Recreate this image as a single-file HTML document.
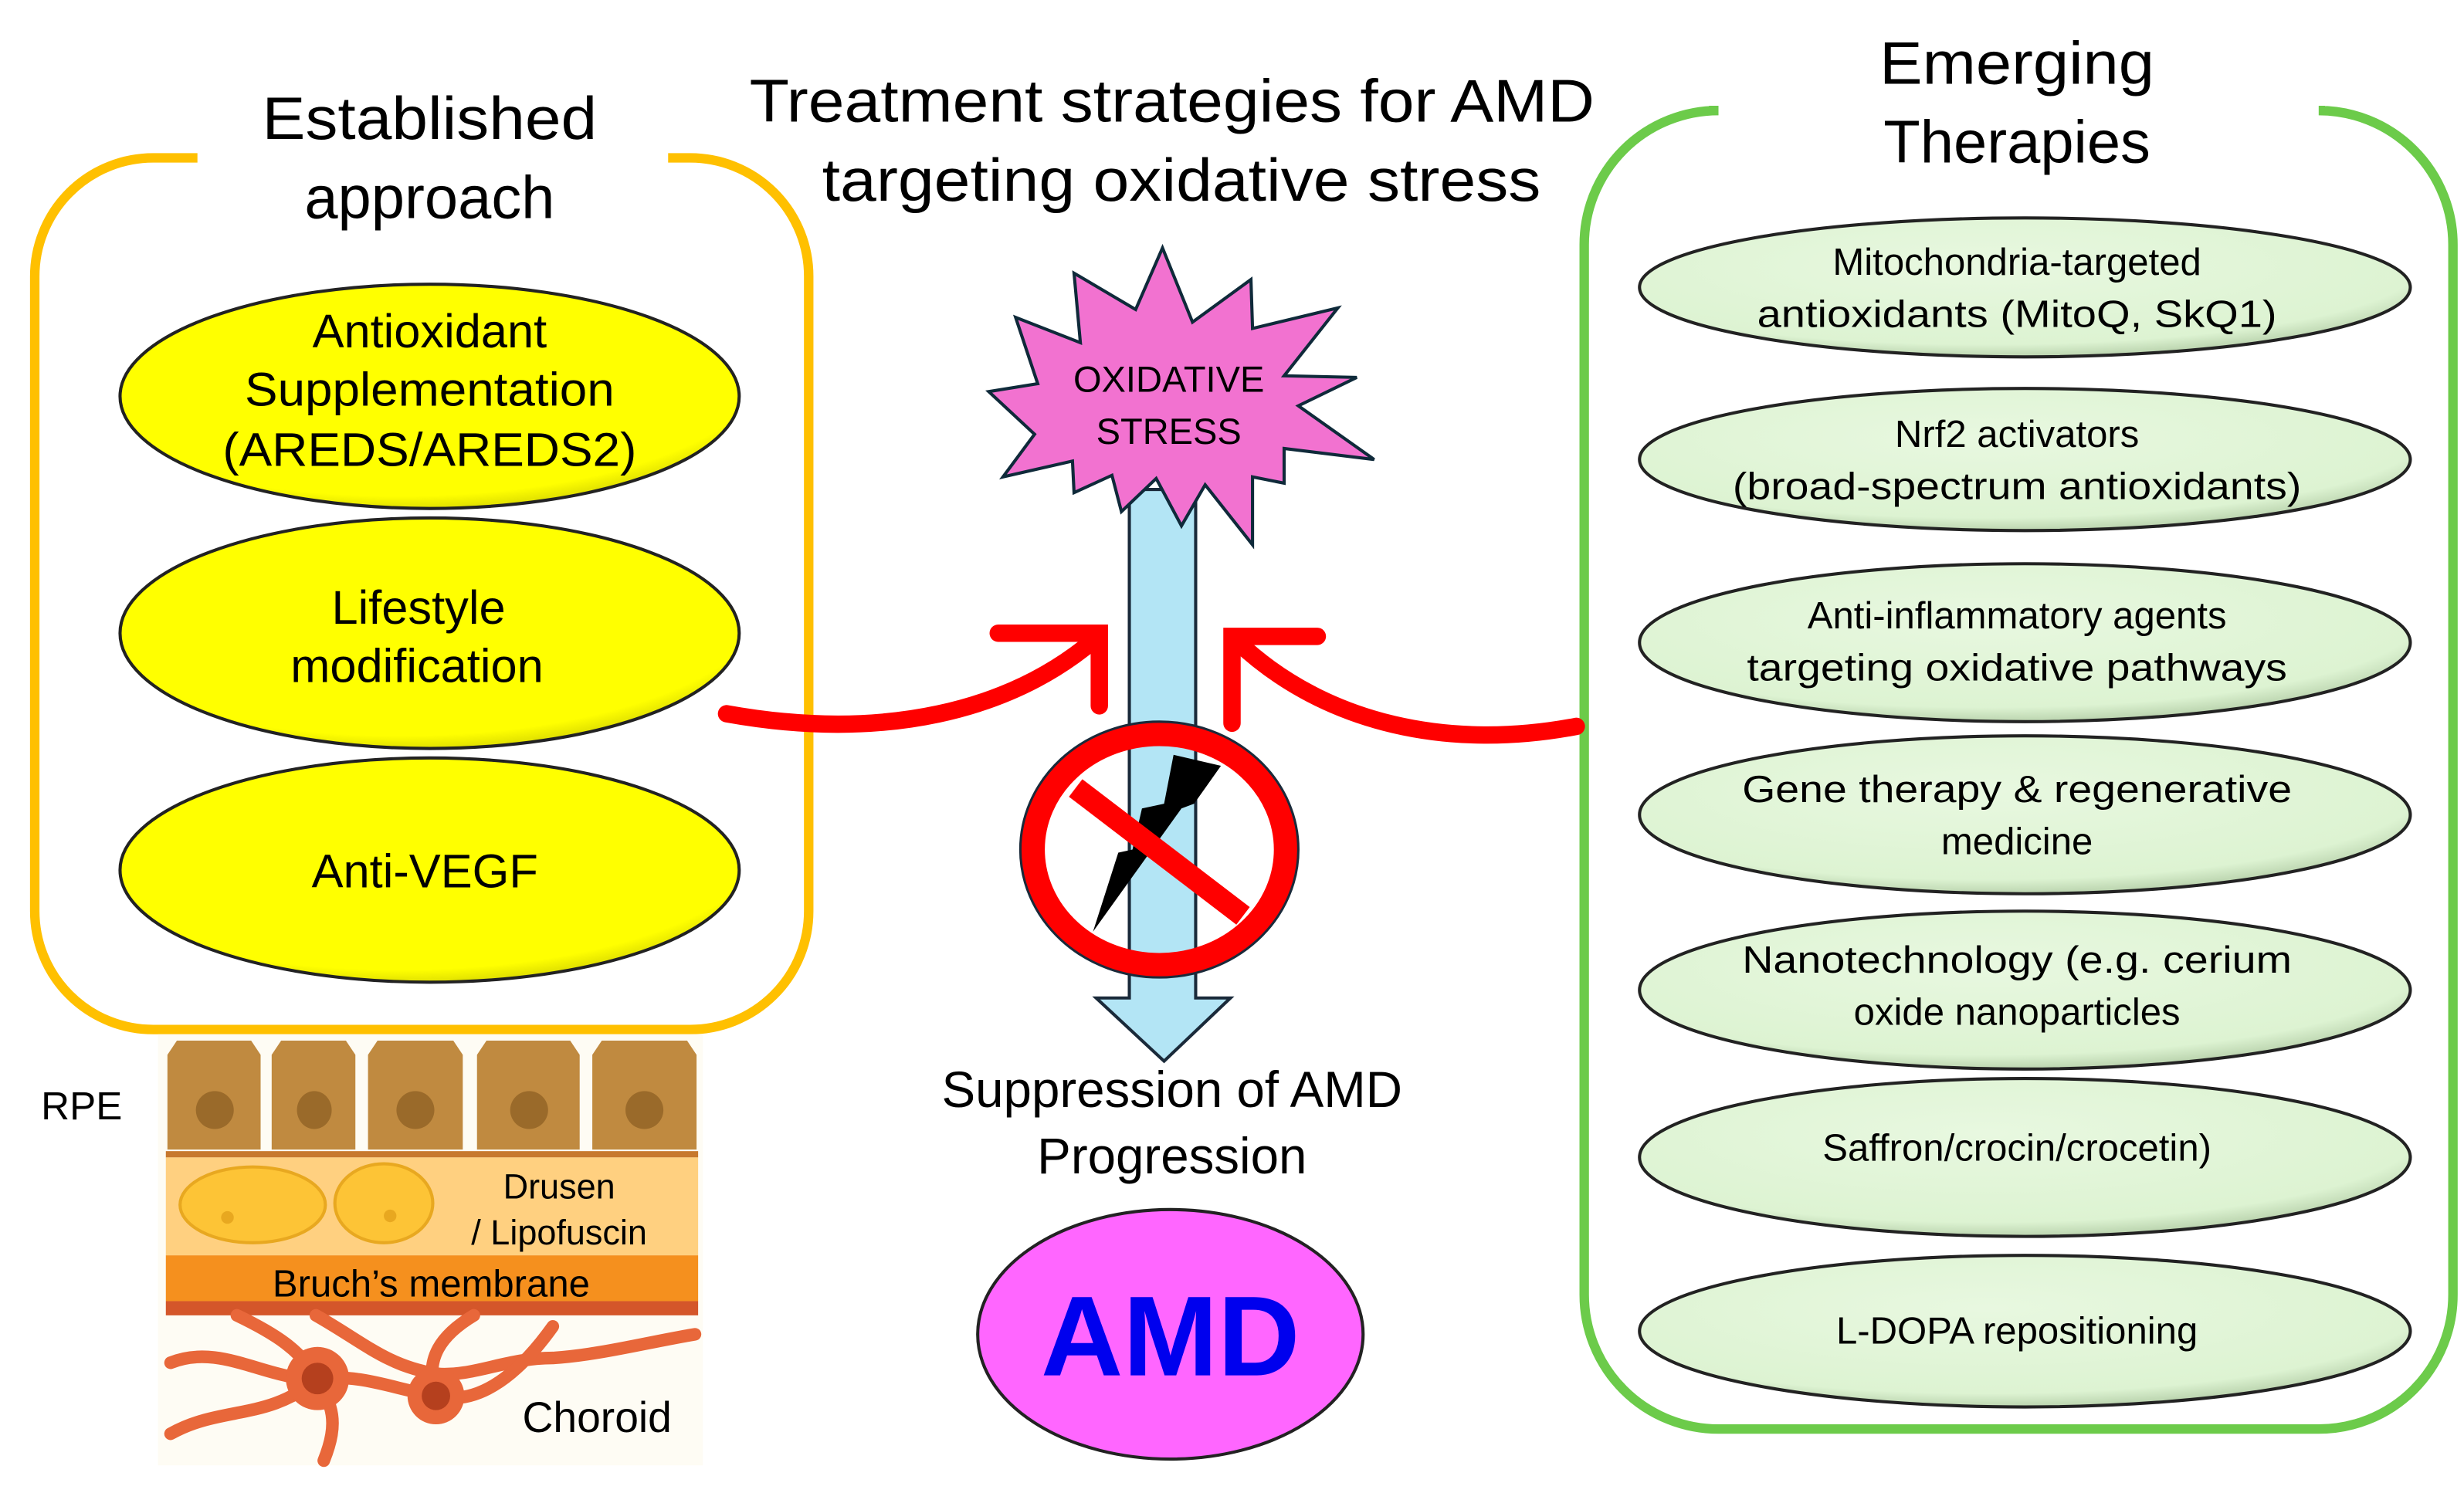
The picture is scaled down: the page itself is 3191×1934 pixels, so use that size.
<!DOCTYPE html>
<html><head><meta charset="utf-8"><style>html,body{margin:0;padding:0;background:#fff}svg{display:block}text{font-family:"Liberation Sans",Arial,sans-serif;fill:#000}</style></head><body>
<svg width="3191" height="1934" viewBox="0 0 1560 945.5" preserveAspectRatio="none" xmlns="http://www.w3.org/2000/svg">
<defs>
<radialGradient id="yg" cx="0.45" cy="0.35" r="0.7"><stop offset="0" stop-color="#FFFF00"/><stop offset="0.85" stop-color="#FFFF00"/><stop offset="1" stop-color="#C8C800"/></radialGradient>
<radialGradient id="gg" cx="0.45" cy="0.35" r="0.7"><stop offset="0" stop-color="#E8F8E0"/><stop offset="0.8" stop-color="#DDF3D2"/><stop offset="1" stop-color="#A9C49C"/></radialGradient>
</defs>
<rect width="1560" height="945.5" fill="#fff"/>
<g font-size="38" text-anchor="middle">
<text x="742" y="77" textLength="535" lengthAdjust="spacingAndGlyphs">Treatment strategies for AMD</text>
<text x="748" y="127" textLength="455" lengthAdjust="spacingAndGlyphs">targeting oxidative stress</text>
<text x="272" y="88" textLength="212" lengthAdjust="spacingAndGlyphs">Established</text>
<text x="272" y="138">approach</text>
<text x="1277" y="53" textLength="174" lengthAdjust="spacingAndGlyphs">Emerging</text>
<text x="1277" y="103">Therapies</text>
</g>
<path d="M125,100 H97 A75,75 0 0 0 22,175 V577 A75,75 0 0 0 97,652 H437 A75,75 0 0 0 512,577 V175 A75,75 0 0 0 437,100 H423" fill="none" stroke="#FFC000" stroke-width="6"/>
<path d="M1082,70 H1088 A85,85 0 0 0 1003,155 V820 A85,85 0 0 0 1088,905 H1468 A85,85 0 0 0 1553,820 V155 A85,85 0 0 0 1468,70 H1472" fill="none" stroke="#6CCB4A" stroke-width="6"/>
<g stroke="#222" stroke-width="2" fill="url(#yg)">
<ellipse cx="272" cy="251" rx="196" ry="71"/>
<ellipse cx="272" cy="401" rx="196" ry="73"/>
<ellipse cx="272" cy="551" rx="196" ry="71"/>
</g>
<g font-size="30" text-anchor="middle">
<text x="272" y="220">Antioxidant</text>
<text x="272" y="257" textLength="234" lengthAdjust="spacingAndGlyphs">Supplementation</text>
<text x="272" y="295" textLength="262" lengthAdjust="spacingAndGlyphs">(AREDS/AREDS2)</text>
<text x="265" y="395">Lifestyle</text>
<text x="264" y="432">modification</text>
<text x="269" y="562">Anti-VEGF</text>
</g>
<g stroke="#222" stroke-width="2" fill="url(#gg)">
<ellipse cx="1282" cy="182" rx="244" ry="44"/>
<ellipse cx="1282" cy="291" rx="244" ry="45"/>
<ellipse cx="1282" cy="407" rx="244" ry="50"/>
<ellipse cx="1282" cy="516" rx="244" ry="50"/>
<ellipse cx="1282" cy="627" rx="244" ry="50"/>
<ellipse cx="1282" cy="733" rx="244" ry="50"/>
<ellipse cx="1282" cy="843" rx="244" ry="48"/>
</g>
<g font-size="24" text-anchor="middle">
<text x="1277" y="174">Mitochondria-targeted</text>
<text x="1277" y="207" textLength="329" lengthAdjust="spacingAndGlyphs">antioxidants  (MitoQ, SkQ1)</text>
<text x="1277" y="283">Nrf2 activators</text>
<text x="1277" y="316" textLength="360" lengthAdjust="spacingAndGlyphs">(broad-spectrum  antioxidants)</text>
<text x="1277" y="398">Anti-inflammatory agents</text>
<text x="1277" y="431" textLength="342" lengthAdjust="spacingAndGlyphs">targeting  oxidative  pathways</text>
<text x="1277" y="508" textLength="348" lengthAdjust="spacingAndGlyphs">Gene therapy &amp; regenerative</text>
<text x="1277" y="541">medicine</text>
<text x="1277" y="616" textLength="348" lengthAdjust="spacingAndGlyphs">Nanotechnology  (e.g. cerium</text>
<text x="1277" y="649">oxide  nanoparticles</text>
<text x="1277" y="735">Saffron/crocin/crocetin)</text>
<text x="1277" y="851">L-DOPA repositioning</text>
</g>
<path d="M715,310 H757 V632 H779 L737,672 L694,632 H715 Z" fill="#B3E5F5" stroke="#1a2a3a" stroke-width="2"/>
<polygon points="736,157 755,204 792,177 793,208 847,195 813,238 859,239 822,257 870,291 813,284 813,306 793,302 793,345 763,307 748,333 732,303 710,324 704,301 680,312 679,292 635,302 655,275 626,248 657,243 643,201 684,217 680,173 719,196" fill="#F272D0" stroke="#0f2a3a" stroke-width="2"/>
<g font-size="23" text-anchor="middle"><text x="740" y="248">OXIDATIVE</text><text x="740" y="281">STRESS</text></g>
<g fill="none" stroke="#FF0000" stroke-width="11" stroke-linecap="round">
<path d="M460,452 C560,470 640,450 693,405"/>
<path d="M632,401 H696 V447"/>
<path d="M998,460 C920,475 840,460 783,406"/>
<path d="M834,403 H780 V458"/>
</g>
<polygon points="743,478 773,485 756,509 748,512 692,590 708,540 717,538 723,512 737,509" fill="#000"/>
<ellipse cx="734" cy="538" rx="80" ry="73" fill="none" stroke="#FF0000" stroke-width="15"/>
<ellipse cx="734" cy="538" rx="88" ry="81" fill="none" stroke="#1a2a3a" stroke-width="1.5"/>
<line x1="681" y1="499" x2="787" y2="580" stroke="#FF0000" stroke-width="14"/>
<g font-size="32" text-anchor="middle"><text x="742" y="701">Suppression of AMD</text><text x="742" y="743">Progression</text></g>
<ellipse cx="741" cy="845" rx="122" ry="79" fill="#FF66FF" stroke="#222" stroke-width="2"/>
<text x="741" y="871" font-size="72" font-weight="bold" text-anchor="middle" style="fill:#0000EE">AMD</text>
<rect x="100" y="655" width="345" height="273" fill="#FEFCF4"/>
<g fill="#C08A40">
<path d="M106,728 V668 L112,659 H159 L165,668 V728 Z"/>
<path d="M172,728 V668 L178,659 H219 L225,668 V728 Z"/>
<path d="M233,728 V668 L239,659 H287 L293,668 V728 Z"/>
<path d="M302,728 V668 L308,659 H361 L367,668 V728 Z"/>
<path d="M375,728 V668 L381,659 H435 L441,668 V728 Z"/>
</g>
<g fill="#9A6A2A"><ellipse cx="136" cy="703" rx="12" ry="12"/><ellipse cx="199" cy="703" rx="11" ry="12"/><ellipse cx="263" cy="703" rx="12" ry="12"/><ellipse cx="335" cy="703" rx="12" ry="12"/><ellipse cx="408" cy="703" rx="12" ry="12"/></g>
<rect x="105" y="729" width="337" height="4" fill="#C7782E"/>
<rect x="105" y="733" width="337" height="62" fill="#FFD080"/>
<rect x="105" y="795" width="337" height="29" fill="#F5901E"/>
<rect x="105" y="824" width="337" height="9" fill="#D4562A"/>
<g fill="#FDC436" stroke="#E8A820" stroke-width="2"><ellipse cx="160" cy="763" rx="46" ry="24"/><ellipse cx="243" cy="762" rx="31" ry="25"/></g>
<g fill="#E8A820"><circle cx="144" cy="771" r="4"/><circle cx="247" cy="770" r="4"/></g>
<g fill="none" stroke="#E8673A" stroke-width="8" stroke-linecap="round">
<path d="M108,863 C140,850 170,875 201,873 C230,870 250,880 276,884"/>
<path d="M108,908 C140,890 170,900 201,873"/>
<path d="M150,833 C175,845 190,855 201,873 C210,890 215,900 205,925"/>
<path d="M200,833 C230,850 245,865 276,870 C300,872 320,860 350,860 C380,858 410,850 440,845"/>
<path d="M276,884 C268,860 280,845 300,833"/>
<path d="M276,884 C300,890 325,875 350,840"/>
</g>
<circle cx="201" cy="873" r="20" fill="#E8673A"/><circle cx="201" cy="873" r="10" fill="#B5401E"/>
<circle cx="276" cy="884" r="18" fill="#E8673A"/><circle cx="276" cy="884" r="9" fill="#B5401E"/>
<g text-anchor="middle">
<text x="354" y="759" font-size="22">Drusen</text>
<text x="354" y="788" font-size="22">/ Lipofuscin</text>
<text x="273" y="821" font-size="24">Bruch’s membrane</text>
<text x="378" y="907" font-size="27">Choroid</text>
</g>
<text x="26" y="709" font-size="25">RPE</text>
</svg>
</body></html>
